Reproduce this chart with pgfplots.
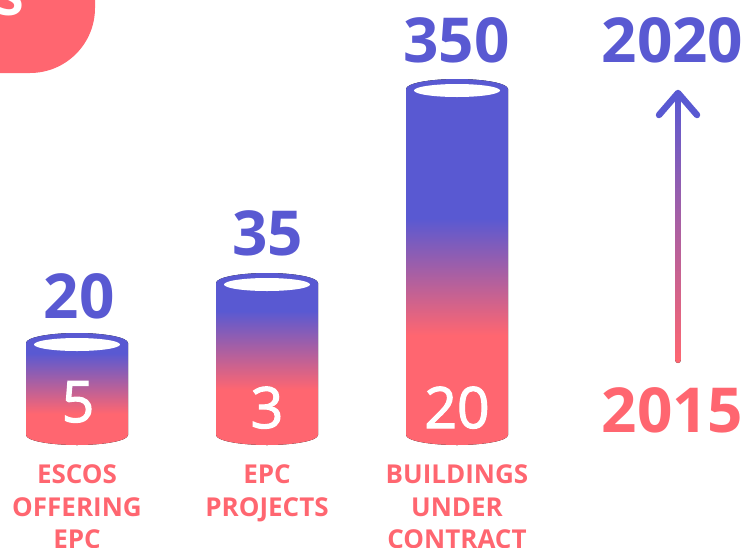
\documentclass[border=0pt]{standalone}
\usepackage{pgfplots}
\pgfplotsset{compat=1.18}
\usepackage{fontspec}
\setmainfont{Open Sans}
\newfontfamily\semib{Open Sans}[FakeBold=2]

\definecolor{epcblue}{RGB}{89,89,210}
\definecolor{epccoral}{RGB}{255,102,112}

% vertical shadings, path box mapped to 25bp..75bp
\pgfdeclareverticalshading{cylA}{100bp}{color(0bp)=(epccoral); color(39bp)=(epccoral); color(66bp)=(epcblue); color(100bp)=(epcblue)}
\pgfdeclareverticalshading{cylB}{100bp}{color(0bp)=(epccoral); color(41bp)=(epccoral); color(64bp)=(epcblue); color(100bp)=(epcblue)}
\pgfdeclareverticalshading{cylC}{100bp}{color(0bp)=(epccoral); color(40bp)=(epccoral); color(56bp)=(epcblue); color(100bp)=(epcblue)}

% cylinder: centre x, top ellipse y, bottom ellipse y, shading
\newcommand{\cyl}[4]{%
  \fill[shading=#4] (axis cs:#1-51,#2) -- (axis cs:#1-51,#3)
    arc[start angle=180,end angle=360,x radius=51pt,y radius=10pt]
    -- (axis cs:#1+51,#2)
    arc[start angle=0,end angle=180,x radius=51pt,y radius=10pt] -- cycle;
  \fill[white] (axis cs:#1,#2+1.5) ellipse[x radius=43pt,y radius=6.5pt];}

\begin{document}
\begin{tikzpicture}
\begin{axis}[
  width=747pt, height=547pt, scale only axis,
  xmin=0, xmax=747, ymin=0, ymax=547,
  y dir=reverse, hide axis, clip=true]

% corner badge
\fill[epccoral, rounded corners=65pt] (axis cs:-200,-200) rectangle (axis cs:95,73);
\node[anchor=base, text=white, font=\bfseries\fontsize{50}{50}\selectfont] at (axis cs:10,15) {S};

% cylinders
\cyl{77}{343}{435}{cylA}
\cyl{267}{283}{435}{cylB}
\cyl{457}{89}{435}{cylC}

% 2020 values
\node[anchor=base, text=epcblue, font=\bfseries\fontsize{62}{62}\selectfont] at (axis cs:79,318) {20};
\node[anchor=base, text=epcblue, font=\bfseries\fontsize{62}{62}\selectfont] at (axis cs:267.5,255) {35};
\node[anchor=base, text=epcblue, font=\bfseries\fontsize{62}{62}\selectfont] at (axis cs:456.5,62) {350};

% 2015 values
\node[anchor=base, text=white, font=\semib\fontsize{57}{57}\selectfont] at (axis cs:78,422) {5};
\node[anchor=base, text=white, font=\semib\fontsize{57}{57}\selectfont] at (axis cs:267,428) {3};
\node[anchor=base, text=white, font=\semib\fontsize{57}{57}\selectfont] at (axis cs:457,428) {20};

% category labels
\begin{scope}[every node/.style={anchor=base, text=epccoral, font=\bfseries\fontsize{26}{26}\selectfont}]
\node at (axis cs:77,483) {ESCOS};
\node at (axis cs:77,516) {OFFERING};
\node at (axis cs:77,548) {EPC};
\node at (axis cs:267,483) {EPC};
\node at (axis cs:267,516) {PROJECTS};
\node at (axis cs:457,483) {BUILDINGS};
\node at (axis cs:457,516) {UNDER};
\node at (axis cs:457,548) {CONTRACT};
\end{scope}

% year arrow
\fill[bottom color=epccoral, top color=epcblue, rounded corners=2.8pt] (axis cs:675.2,363) rectangle (axis cs:680.8,95);
\draw[epcblue, line width=6.5pt, line cap=round, line join=round] (axis cs:659,115) -- (axis cs:678,93) -- (axis cs:697,115);
\node[anchor=base, text=epcblue, font=\bfseries\fontsize{62}{62}\selectfont] at (axis cs:672.5,62) {2020};
\node[anchor=base, text=epccoral, font=\bfseries\fontsize{62}{62}\selectfont] at (axis cs:672.5,432) {2015};
\end{axis}
\pgfresetboundingbox
\path (current axis.south west) rectangle (current axis.north east);
\end{tikzpicture}
\end{document}
